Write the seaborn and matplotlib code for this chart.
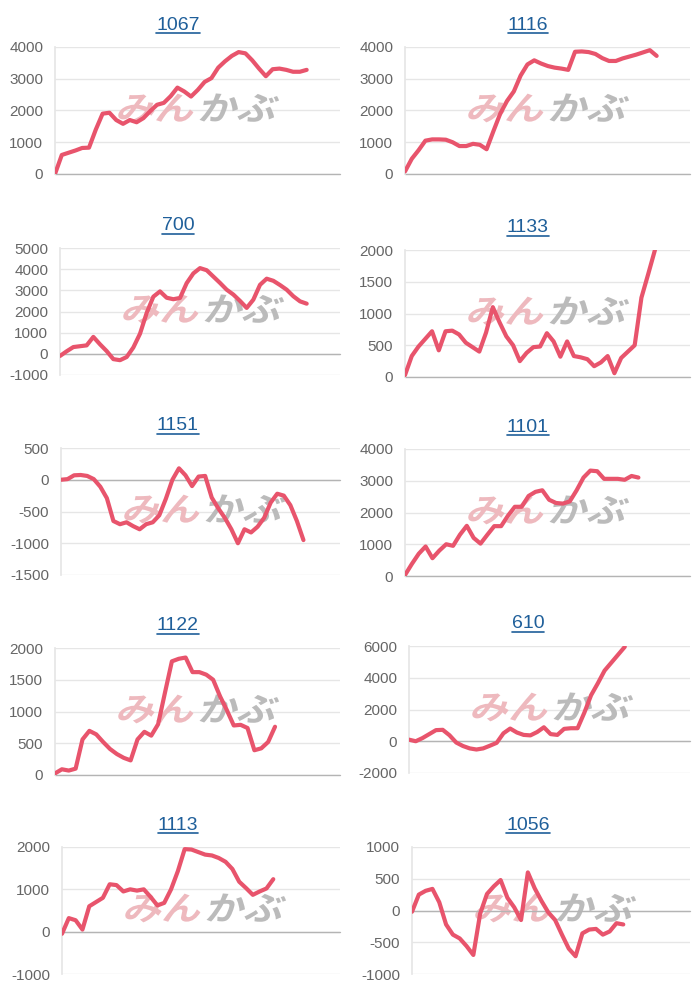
import numpy as np
import matplotlib
matplotlib.use("Agg")
import matplotlib.pyplot as plt
import seaborn as sns
from matplotlib.textpath import TextPath
from matplotlib.patches import PathPatch
from matplotlib.font_manager import FontProperties
from matplotlib.transforms import Affine2D
from matplotlib.lines import Line2D

# 1. DATA (one list per chart)
codes = ["1067", "1116", "700", "1133", "1151", "1101", "1122", "610", "1113", "1056"]

s1067 = [0, 600, 670, 740, 820, 830, 1400, 1900, 1930, 1700, 1580, 1700, 1630, 1760,
         1980, 2180, 2240, 2450, 2720, 2600, 2440, 2650, 2900, 3020, 3350, 3550, 3720,
         3840, 3800, 3580, 3320, 3080, 3300, 3320, 3280, 3220, 3220, 3280]
s1116 = [80, 480, 750, 1050, 1090, 1090, 1080, 1000, 880, 880, 950, 920, 780, 1350,
         1900, 2300, 2600, 3100, 3450, 3580, 3480, 3400, 3350, 3320, 3280, 3850, 3860,
         3840, 3780, 3650, 3560, 3560, 3640, 3700, 3760, 3830, 3900, 3720]
s700 = [-100, 120, 320, 360, 400, 800, 450, 130, -250, -300, -150, 300, 950, 1930,
        2700, 2950, 2650, 2580, 2640, 3340, 3800, 4050, 3950, 3650, 3350, 3030, 2800,
        2500, 2170, 2560, 3260, 3550, 3450, 3250, 3030, 2720, 2480, 2370]
s1133 = [30, 330, 480, 600, 720, 420, 720, 730, 670, 540, 470, 400, 700, 1100, 860,
         640, 500, 250, 380, 470, 480, 690, 560, 320, 560, 330, 310, 280, 170, 230, 330,
         60, 300, 400, 500, 1250, 1620, 2000]
s1151 = [0, 10, 70, 75, 60, 10, -110, -290, -650, -700, -670, -730, -780, -700, -670,
         -560, -300, 0, 180, 70, -100, 50, 60, -280, -450, -600, -780, -1000, -780, -830,
         -740, -600, -360, -220, -250, -400, -650, -950]
s1101 = [30, 380, 700, 930, 560, 800, 1000, 950, 1300, 1580, 1200, 1020, 1300, 1570,
         1570, 1900, 2180, 2180, 2520, 2650, 2700, 2400, 2300, 2280, 2350, 2700, 3100,
         3320, 3300, 3060, 3060, 3060, 3030, 3150, 3100]
s1122 = [25, 90, 70, 100, 560, 695, 640, 520, 410, 330, 270, 230, 560, 680, 620, 800,
         1300, 1790, 1830, 1850, 1620, 1620, 1580, 1500, 1240, 1020, 780, 790, 740, 390,
         420, 520, 760]
s610 = [100, 0, 200, 450, 700, 720, 380, -80, -300, -450, -520, -450, -280, -100, 500,
        800, 550, 400, 370, 580, 880, 450, 400, 780, 820, 820, 1800, 2900, 3650, 4450,
        4950, 5450, 5950]
s1113 = [-50, 320, 270, 50, 600, 700, 800, 1120, 1100, 950, 1000, 970, 1000, 820, 620,
         680, 1000, 1430, 1950, 1940, 1880, 1820, 1800, 1740, 1650, 1480, 1180, 1030,
         870, 950, 1020, 1240]
s1056 = [-20, 250, 310, 340, 130, -220, -380, -440, -560, -700, -50, 260, 380, 480, 200,
         50, -150, 600, 350, 150, -30, -150, -380, -600, -720, -360, -300, -290, -380,
         -330, -200, -220]

ticks_1067 = [0, 1000, 2000, 3000, 4000]
ticks_1116 = [0, 1000, 2000, 3000, 4000]
ticks_700 = [-1000, 0, 1000, 2000, 3000, 4000, 5000]
ticks_1133 = [0, 500, 1000, 1500, 2000]
ticks_1151 = [-1500, -1000, -500, 0, 500]
ticks_1101 = [0, 1000, 2000, 3000, 4000]
ticks_1122 = [0, 500, 1000, 1500, 2000]
ticks_610 = [-2000, 0, 2000, 4000, 6000]
ticks_1113 = [-1000, 0, 1000, 2000]
ticks_1056 = [-1000, -500, 0, 500, 1000]

series = [s1067, s1116, s700, s1133, s1151, s1101, s1122, s610, s1113, s1056]
ticks = [ticks_1067, ticks_1116, ticks_700, ticks_1133, ticks_1151,
         ticks_1101, ticks_1122, ticks_610, ticks_1113, ticks_1056]

# 2. LAYOUT (pixels): axes left, axes top, axes right, share of x filled by data
layout = [
    (55, 47, 340, 0.883), (405, 47, 690, 0.883),
    (60, 248, 340, 0.881), (405, 250, 690, 0.877),
    (61, 448, 340, 0.869), (405, 449, 690, 0.819),
    (55, 648, 340, 0.772), (409, 646, 690, 0.768),
    (62, 847, 340, 0.760), (412, 847, 690, 0.760),
]
W, H = 700, 1000
AX_H = 127
LINE = "#e8546c"
GRID = "#e6e6e6"
ZERO = "#b4b4b4"
TITLE = "#1f5f9a"

sns.set_theme(style="white")
plt.rcParams["font.family"] = ["Liberation Sans", "DejaVu Sans"]

fig = plt.figure(figsize=(7, 10), dpi=100)
logo_font = FontProperties(family="Noto Sans CJK JP", weight="bold")


def add_logo(ax, x0, base):
    # watermark: pink "みん" + grey "かぶ", slanted like the site logo
    for txt, col, dx in [("みん", "#eeb9be", 0), ("かぶ", "#bbbbbb", 82)]:
        path = TextPath((0, 0), txt, size=1, prop=logo_font)
        tr = (Affine2D().scale(39, 33).skew_deg(14, 0)
              .translate(x0 + dx, H - base).scale(1 / W, 1 / H) + fig.transFigure)
        patch = PathPatch(path, transform=tr, facecolor=col, edgecolor="none", zorder=1)
        ax.add_artist(patch)
        patch.set_clip_on(False)


titles = []
for i, (code, vals, tk, (l, t, r, frac)) in enumerate(zip(codes, series, ticks, layout)):
    ax = fig.add_axes([l / W, 1 - (t + AX_H) / H, (r - l) / W, AX_H / H])
    x = np.arange(len(vals))
    sns.lineplot(x=x, y=vals, ax=ax, color=LINE, linewidth=3.0, zorder=3)
    ax.set_xlim(0, (len(vals) - 1) / frac)
    ax.set_ylim(tk[0], tk[-1])
    ax.set_yticks(tk)
    ax.set_yticklabels([str(v) for v in tk])
    ax.set_xticks([])
    ax.set_xlabel("")
    ax.set_ylabel("")
    ax.grid(axis="y", color=GRID, linewidth=1)
    ax.axhline(0, color=ZERO, linewidth=1, zorder=2, clip_on=False)
    for s in ["top", "right", "bottom"]:
        ax.spines[s].set_visible(False)
    ax.spines["left"].set_color(GRID)
    ax.tick_params(axis="y", length=7, width=1, color=GRID, labelsize=11,
                   labelcolor="#666666", pad=1.5)
    for v, tick in zip(tk, ax.yaxis.get_major_ticks()):
        if v == 0:
            tick.tick1line.set_color(ZERO)

    add_logo(ax, l + 60, t + 73)

    col_x = 0 if i % 2 == 0 else 350
    txt = fig.text((col_x + 178) / W, 1 - (t - 22) / H, code, ha="center", va="center",
                   fontsize=14, color=TITLE)
    titles.append(txt)

# underline the titles (they are links on the page)
fig.canvas.draw()
rend = fig.canvas.get_renderer()
for txt in titles:
    bb = txt.get_window_extent(rend)
    fig.add_artist(Line2D([bb.x0 / W, bb.x1 / W], [(bb.y0 + 0.5) / H] * 2,
                          transform=fig.transFigure, color=TITLE, linewidth=1.2))

fig.savefig("out.png", dpi=100)
